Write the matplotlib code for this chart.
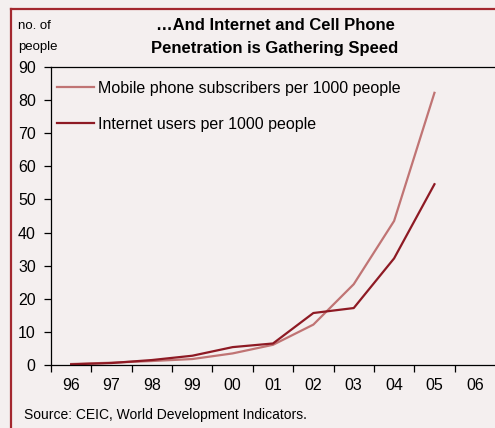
import matplotlib
matplotlib.use("Agg")
import matplotlib.pyplot as plt
import numpy as np
from matplotlib.lines import Line2D

plt.rcParams['font.family'] = ['Liberation Sans', 'DejaVu Sans']

years = ["96", "97", "98", "99", "00", "01", "02", "03", "04", "05", "06"]
mobile = [0.3, 0.7, 1.2, 1.8, 3.5, 6.1, 12.2, 24.4, 43.5, 82.2]
internet = [0.2, 0.6, 1.5, 2.8, 5.4, 6.5, 15.7, 17.2, 32.2, 54.6]
yticks = [0, 10, 20, 30, 40, 50, 60, 70, 80, 90]

bg = "#F4EFEF"
mob_col = "#C07474"
int_col = "#8E1A24"
border = "#A3282F"

W, H = 495, 428
fig = plt.figure(figsize=(W/100, H/100), dpi=100, facecolor=bg)
ax = fig.add_axes([51/W, 1-365/H, (W-51)/W, (365-67)/H], facecolor=bg)

x = np.arange(len(mobile))
ax.plot(x, mobile, color=mob_col, lw=1.6, label="Mobile phone subscribers per 1000 people")
ax.plot(x, internet, color=int_col, lw=1.6, label="Internet users per 1000 people")

ax.set_xlim(-0.5, len(years)-0.5)
ax.set_ylim(0, 90)
ax.set_yticks(yticks)
ax.set_yticklabels([str(v) for v in yticks], fontsize=11.5)
ax.set_xticks(np.arange(len(years)))
ax.set_xticklabels(years, fontsize=11.5)
ax.set_xticks(np.arange(len(years)) - 0.5, minor=True)
ax.tick_params(axis='x', which='major', length=0, pad=9)
ax.tick_params(axis='x', which='minor', length=5, direction='out', width=0.9)
ax.tick_params(axis='y', length=5, direction='out', width=0.9, pad=6)
ax.spines['right'].set_visible(False)
for s in ['left', 'bottom', 'top']:
    ax.spines[s].set_linewidth(0.9)
    ax.spines[s].set_color('black')

ax.legend(loc='upper left', bbox_to_anchor=(0.0, 0.975), frameon=False, fontsize=11.5,
          handlelength=2.3, handletextpad=0.25, labelspacing=1.3, borderaxespad=0.0)

fig.text(275/W, 1-26/H, "…And Internet and Cell Phone", ha='center', va='center',
         fontsize=12, fontweight='bold')
fig.text(275/W, 1-49/H, "Penetration is Gathering Speed", ha='center', va='center',
         fontsize=12, fontweight='bold')
fig.text(18/W, 1-26/H, "no. of", ha='left', va='center', fontsize=9.5)
fig.text(18/W, 1-47/H, "people", ha='left', va='center', fontsize=9.5)
fig.text(24/W, 1-415/H, "Source: CEIC, World Development Indicators.", ha='left', va='center',
         fontsize=10)

fig.add_artist(Line2D([10.5/W, 10.5/W], [0, 1-8.5/H], color=border, lw=1.6, transform=fig.transFigure))
fig.add_artist(Line2D([10.5/W, 1], [1-8.5/H, 1-8.5/H], color=border, lw=1.6, transform=fig.transFigure))

fig.savefig("out.png", dpi=100, facecolor=bg)
